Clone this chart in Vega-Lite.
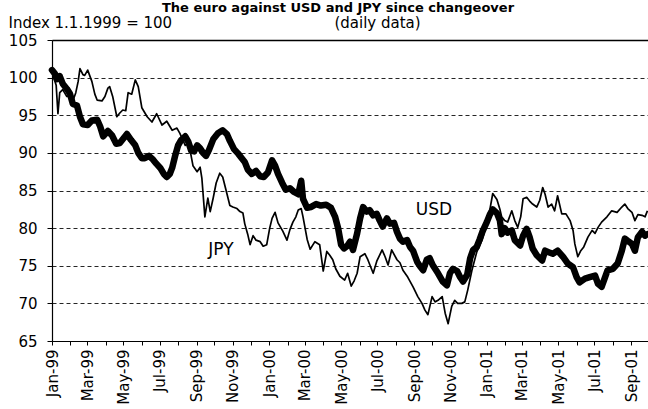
{
  "$schema": "https://vega.github.io/schema/vega-lite/v6.json",
  "width": 596,
  "height": 301,
  "autosize": "none",
  "padding": {"left": 52, "top": 40, "right": 0, "bottom": 68},
  "background": "white",
  "config": {
    "view": {"stroke": null},
    "font": "DejaVu Sans",
    "axis": {"labelColor": "black", "titleColor": "black", "domainColor": "black", "tickColor": "black", "labelFont": "DejaVu Sans", "titleFont": "DejaVu Sans"}
  },
  "title": {
    "text": "The euro against USD and JPY since changeover",
    "anchor": "middle",
    "frame": "group",
    "dx": -12,
    "dy": 14,
    "offset": 4,
    "baseline": "alphabetic",
    "fontSize": 13,
    "fontWeight": "bold",
    "font": "DejaVu Sans",
    "color": "black"
  },
  "datasets": {
    "rates": [
      {"d":"1999-01-01","c":"USD","v":101.0},{"d":"1999-01-06","c":"USD","v":100.5},{"d":"1999-01-09","c":"USD","v":99.8},{"d":"1999-01-14","c":"USD","v":100.2},{"d":"1999-01-19","c":"USD","v":99.2},{"d":"1999-01-26","c":"USD","v":98.5},{"d":"1999-01-31","c":"USD","v":97.9},{"d":"1999-02-05","c":"USD","v":96.5},{"d":"1999-02-12","c":"USD","v":96.3},{"d":"1999-02-17","c":"USD","v":94.8},{"d":"1999-02-22","c":"USD","v":93.8},{"d":"1999-03-02","c":"USD","v":93.7},{"d":"1999-03-09","c":"USD","v":94.3},{"d":"1999-03-18","c":"USD","v":94.4},{"d":"1999-03-23","c":"USD","v":93.5},{"d":"1999-03-28","c":"USD","v":92.2},{"d":"1999-04-05","c":"USD","v":92.9},{"d":"1999-04-12","c":"USD","v":92.3},{"d":"1999-04-19","c":"USD","v":91.2},{"d":"1999-04-25","c":"USD","v":91.3},{"d":"1999-05-02","c":"USD","v":92.0},{"d":"1999-05-07","c":"USD","v":92.5},{"d":"1999-05-14","c":"USD","v":91.7},{"d":"1999-05-21","c":"USD","v":91.0},{"d":"1999-05-26","c":"USD","v":90.0},{"d":"1999-06-01","c":"USD","v":89.3},{"d":"1999-06-06","c":"USD","v":89.3},{"d":"1999-06-13","c":"USD","v":89.6},{"d":"1999-06-20","c":"USD","v":89.1},{"d":"1999-06-25","c":"USD","v":88.6},{"d":"1999-07-02","c":"USD","v":88.0},{"d":"1999-07-08","c":"USD","v":87.2},{"d":"1999-07-13","c":"USD","v":86.8},{"d":"1999-07-18","c":"USD","v":87.2},{"d":"1999-07-22","c":"USD","v":88.0},{"d":"1999-07-27","c":"USD","v":89.6},{"d":"1999-08-01","c":"USD","v":91.0},{"d":"1999-08-06","c":"USD","v":91.7},{"d":"1999-08-13","c":"USD","v":92.2},{"d":"1999-08-18","c":"USD","v":91.5},{"d":"1999-08-23","c":"USD","v":90.3},{"d":"1999-08-28","c":"USD","v":90.2},{"d":"1999-09-02","c":"USD","v":91.0},{"d":"1999-09-07","c":"USD","v":90.6},{"d":"1999-09-12","c":"USD","v":90.0},{"d":"1999-09-17","c":"USD","v":89.6},{"d":"1999-09-22","c":"USD","v":90.4},{"d":"1999-09-29","c":"USD","v":91.8},{"d":"1999-10-07","c":"USD","v":92.6},{"d":"1999-10-15","c":"USD","v":93.0},{"d":"1999-10-22","c":"USD","v":92.5},{"d":"1999-10-27","c":"USD","v":91.6},{"d":"1999-11-03","c":"USD","v":90.5},{"d":"1999-11-10","c":"USD","v":89.9},{"d":"1999-11-16","c":"USD","v":89.3},{"d":"1999-11-21","c":"USD","v":88.8},{"d":"1999-11-26","c":"USD","v":87.8},{"d":"1999-12-03","c":"USD","v":87.2},{"d":"1999-12-10","c":"USD","v":87.6},{"d":"1999-12-17","c":"USD","v":86.9},{"d":"1999-12-23","c":"USD","v":86.8},{"d":"1999-12-30","c":"USD","v":87.4},{"d":"2000-01-06","c":"USD","v":89.0},{"d":"2000-01-11","c":"USD","v":88.3},{"d":"2000-01-16","c":"USD","v":87.2},{"d":"2000-01-23","c":"USD","v":86.0},{"d":"2000-01-29","c":"USD","v":85.1},{"d":"2000-02-05","c":"USD","v":85.3},{"d":"2000-02-12","c":"USD","v":84.8},{"d":"2000-02-19","c":"USD","v":84.5},{"d":"2000-02-24","c":"USD","v":86.3},{"d":"2000-02-27","c":"USD","v":83.9},{"d":"2000-03-05","c":"USD","v":82.7},{"d":"2000-03-11","c":"USD","v":82.8},{"d":"2000-03-20","c":"USD","v":83.2},{"d":"2000-03-28","c":"USD","v":83.0},{"d":"2000-04-06","c":"USD","v":83.1},{"d":"2000-04-14","c":"USD","v":82.7},{"d":"2000-04-21","c":"USD","v":81.5},{"d":"2000-04-26","c":"USD","v":80.0},{"d":"2000-05-01","c":"USD","v":77.8},{"d":"2000-05-06","c":"USD","v":77.3},{"d":"2000-05-11","c":"USD","v":77.6},{"d":"2000-05-16","c":"USD","v":78.2},{"d":"2000-05-21","c":"USD","v":77.1},{"d":"2000-05-28","c":"USD","v":79.3},{"d":"2000-06-02","c":"USD","v":81.3},{"d":"2000-06-07","c":"USD","v":82.8},{"d":"2000-06-13","c":"USD","v":82.2},{"d":"2000-06-18","c":"USD","v":82.4},{"d":"2000-06-24","c":"USD","v":81.7},{"d":"2000-06-30","c":"USD","v":81.9},{"d":"2000-07-05","c":"USD","v":81.0},{"d":"2000-07-10","c":"USD","v":80.2},{"d":"2000-07-17","c":"USD","v":81.3},{"d":"2000-07-22","c":"USD","v":80.6},{"d":"2000-07-29","c":"USD","v":80.7},{"d":"2000-08-03","c":"USD","v":79.5},{"d":"2000-08-08","c":"USD","v":78.6},{"d":"2000-08-13","c":"USD","v":78.2},{"d":"2000-08-20","c":"USD","v":78.4},{"d":"2000-08-25","c":"USD","v":77.5},{"d":"2000-08-30","c":"USD","v":77.0},{"d":"2000-09-06","c":"USD","v":75.5},{"d":"2000-09-11","c":"USD","v":74.9},{"d":"2000-09-16","c":"USD","v":74.4},{"d":"2000-09-22","c":"USD","v":75.8},{"d":"2000-09-27","c":"USD","v":76.0},{"d":"2000-10-02","c":"USD","v":75.1},{"d":"2000-10-11","c":"USD","v":74.0},{"d":"2000-10-19","c":"USD","v":72.9},{"d":"2000-10-26","c":"USD","v":72.4},{"d":"2000-10-31","c":"USD","v":74.0},{"d":"2000-11-05","c":"USD","v":74.6},{"d":"2000-11-12","c":"USD","v":74.3},{"d":"2000-11-17","c":"USD","v":73.5},{"d":"2000-11-22","c":"USD","v":72.9},{"d":"2000-11-29","c":"USD","v":73.8},{"d":"2000-12-04","c":"USD","v":76.0},{"d":"2000-12-09","c":"USD","v":77.1},{"d":"2000-12-15","c":"USD","v":77.5},{"d":"2000-12-20","c":"USD","v":78.5},{"d":"2000-12-25","c":"USD","v":79.6},{"d":"2001-01-01","c":"USD","v":80.8},{"d":"2001-01-06","c":"USD","v":81.8},{"d":"2001-01-11","c":"USD","v":82.5},{"d":"2001-01-18","c":"USD","v":82.0},{"d":"2001-01-23","c":"USD","v":81.0},{"d":"2001-01-26","c":"USD","v":79.2},{"d":"2001-01-31","c":"USD","v":80.0},{"d":"2001-02-05","c":"USD","v":79.4},{"d":"2001-02-12","c":"USD","v":79.7},{"d":"2001-02-17","c":"USD","v":78.4},{"d":"2001-02-26","c":"USD","v":77.7},{"d":"2001-03-03","c":"USD","v":79.0},{"d":"2001-03-09","c":"USD","v":79.9},{"d":"2001-03-14","c":"USD","v":78.8},{"d":"2001-03-19","c":"USD","v":77.3},{"d":"2001-03-26","c":"USD","v":76.4},{"d":"2001-04-04","c":"USD","v":75.7},{"d":"2001-04-09","c":"USD","v":77.0},{"d":"2001-04-15","c":"USD","v":76.8},{"d":"2001-04-22","c":"USD","v":76.6},{"d":"2001-04-30","c":"USD","v":77.0},{"d":"2001-05-09","c":"USD","v":76.2},{"d":"2001-05-17","c":"USD","v":75.3},{"d":"2001-05-26","c":"USD","v":74.8},{"d":"2001-06-01","c":"USD","v":73.5},{"d":"2001-06-06","c":"USD","v":72.8},{"d":"2001-06-15","c":"USD","v":73.3},{"d":"2001-06-23","c":"USD","v":73.5},{"d":"2001-07-02","c":"USD","v":73.7},{"d":"2001-07-07","c":"USD","v":72.6},{"d":"2001-07-13","c":"USD","v":72.2},{"d":"2001-07-18","c":"USD","v":73.3},{"d":"2001-07-23","c":"USD","v":74.4},{"d":"2001-08-01","c":"USD","v":74.6},{"d":"2001-08-09","c":"USD","v":75.3},{"d":"2001-08-16","c":"USD","v":77.0},{"d":"2001-08-21","c":"USD","v":78.6},{"d":"2001-08-26","c":"USD","v":78.3},{"d":"2001-09-02","c":"USD","v":77.9},{"d":"2001-09-07","c":"USD","v":77.0},{"d":"2001-09-12","c":"USD","v":78.8},{"d":"2001-09-19","c":"USD","v":79.5},{"d":"2001-09-24","c":"USD","v":79.0},{"d":"2001-09-28","c":"USD","v":79.2},
      {"d":"1999-01-01","c":"JPY","v":101.0},{"d":"1999-01-04","c":"JPY","v":100.0},{"d":"1999-01-08","c":"JPY","v":99.0},{"d":"1999-01-11","c":"JPY","v":95.2},{"d":"1999-01-14","c":"JPY","v":98.0},{"d":"1999-01-19","c":"JPY","v":98.4},{"d":"1999-01-26","c":"JPY","v":97.5},{"d":"1999-01-31","c":"JPY","v":97.5},{"d":"1999-02-05","c":"JPY","v":96.9},{"d":"1999-02-10","c":"JPY","v":98.0},{"d":"1999-02-14","c":"JPY","v":99.5},{"d":"1999-02-17","c":"JPY","v":101.2},{"d":"1999-02-22","c":"JPY","v":100.4},{"d":"1999-02-25","c":"JPY","v":100.3},{"d":"1999-03-02","c":"JPY","v":101.0},{"d":"1999-03-09","c":"JPY","v":99.5},{"d":"1999-03-14","c":"JPY","v":97.8},{"d":"1999-03-18","c":"JPY","v":97.0},{"d":"1999-03-26","c":"JPY","v":96.9},{"d":"1999-03-31","c":"JPY","v":97.5},{"d":"1999-04-05","c":"JPY","v":98.6},{"d":"1999-04-08","c":"JPY","v":98.8},{"d":"1999-04-13","c":"JPY","v":97.5},{"d":"1999-04-20","c":"JPY","v":94.8},{"d":"1999-04-25","c":"JPY","v":95.3},{"d":"1999-04-30","c":"JPY","v":95.7},{"d":"1999-05-05","c":"JPY","v":95.6},{"d":"1999-05-09","c":"JPY","v":98.0},{"d":"1999-05-15","c":"JPY","v":97.8},{"d":"1999-05-21","c":"JPY","v":99.7},{"d":"1999-05-26","c":"JPY","v":98.8},{"d":"1999-06-01","c":"JPY","v":96.0},{"d":"1999-06-10","c":"JPY","v":94.8},{"d":"1999-06-18","c":"JPY","v":94.1},{"d":"1999-06-26","c":"JPY","v":95.2},{"d":"1999-07-05","c":"JPY","v":93.7},{"d":"1999-07-13","c":"JPY","v":94.2},{"d":"1999-07-22","c":"JPY","v":93.0},{"d":"1999-07-30","c":"JPY","v":93.3},{"d":"1999-08-04","c":"JPY","v":92.6},{"d":"1999-08-13","c":"JPY","v":91.0},{"d":"1999-08-18","c":"JPY","v":91.3},{"d":"1999-08-21","c":"JPY","v":90.4},{"d":"1999-08-26","c":"JPY","v":88.3},{"d":"1999-09-02","c":"JPY","v":87.5},{"d":"1999-09-07","c":"JPY","v":88.1},{"d":"1999-09-10","c":"JPY","v":86.6},{"d":"1999-09-15","c":"JPY","v":81.5},{"d":"1999-09-20","c":"JPY","v":84.0},{"d":"1999-09-24","c":"JPY","v":82.2},{"d":"1999-09-29","c":"JPY","v":84.0},{"d":"1999-10-04","c":"JPY","v":86.0},{"d":"1999-10-10","c":"JPY","v":87.3},{"d":"1999-10-15","c":"JPY","v":86.8},{"d":"1999-10-22","c":"JPY","v":84.6},{"d":"1999-10-27","c":"JPY","v":83.0},{"d":"1999-11-01","c":"JPY","v":82.8},{"d":"1999-11-08","c":"JPY","v":82.6},{"d":"1999-11-13","c":"JPY","v":82.2},{"d":"1999-11-18","c":"JPY","v":82.0},{"d":"1999-11-21","c":"JPY","v":80.6},{"d":"1999-11-26","c":"JPY","v":79.2},{"d":"1999-11-30","c":"JPY","v":77.8},{"d":"1999-12-05","c":"JPY","v":79.0},{"d":"1999-12-10","c":"JPY","v":78.4},{"d":"1999-12-17","c":"JPY","v":78.2},{"d":"1999-12-22","c":"JPY","v":77.6},{"d":"1999-12-28","c":"JPY","v":77.8},{"d":"2000-01-02","c":"JPY","v":80.0},{"d":"2000-01-06","c":"JPY","v":81.3},{"d":"2000-01-11","c":"JPY","v":82.1},{"d":"2000-01-16","c":"JPY","v":80.7},{"d":"2000-01-24","c":"JPY","v":79.6},{"d":"2000-01-31","c":"JPY","v":78.4},{"d":"2000-02-05","c":"JPY","v":79.8},{"d":"2000-02-10","c":"JPY","v":80.8},{"d":"2000-02-15","c":"JPY","v":81.5},{"d":"2000-02-19","c":"JPY","v":82.4},{"d":"2000-02-24","c":"JPY","v":82.6},{"d":"2000-02-27","c":"JPY","v":81.5},{"d":"2000-03-05","c":"JPY","v":78.5},{"d":"2000-03-10","c":"JPY","v":77.2},{"d":"2000-03-18","c":"JPY","v":78.2},{"d":"2000-03-26","c":"JPY","v":77.8},{"d":"2000-04-01","c":"JPY","v":74.3},{"d":"2000-04-07","c":"JPY","v":76.9},{"d":"2000-04-12","c":"JPY","v":76.4},{"d":"2000-04-17","c":"JPY","v":75.8},{"d":"2000-04-22","c":"JPY","v":74.6},{"d":"2000-04-29","c":"JPY","v":73.6},{"d":"2000-05-07","c":"JPY","v":73.1},{"d":"2000-05-12","c":"JPY","v":74.0},{"d":"2000-05-18","c":"JPY","v":72.3},{"d":"2000-05-23","c":"JPY","v":73.0},{"d":"2000-05-28","c":"JPY","v":74.0},{"d":"2000-06-02","c":"JPY","v":76.2},{"d":"2000-06-10","c":"JPY","v":76.6},{"d":"2000-06-15","c":"JPY","v":75.8},{"d":"2000-06-24","c":"JPY","v":74.0},{"d":"2000-06-30","c":"JPY","v":75.6},{"d":"2000-07-09","c":"JPY","v":77.1},{"d":"2000-07-14","c":"JPY","v":76.2},{"d":"2000-07-19","c":"JPY","v":75.1},{"d":"2000-07-25","c":"JPY","v":77.1},{"d":"2000-08-03","c":"JPY","v":75.8},{"d":"2000-08-08","c":"JPY","v":75.4},{"d":"2000-08-13","c":"JPY","v":74.4},{"d":"2000-08-21","c":"JPY","v":73.5},{"d":"2000-08-30","c":"JPY","v":72.2},{"d":"2000-09-07","c":"JPY","v":70.9},{"d":"2000-09-14","c":"JPY","v":70.0},{"d":"2000-09-19","c":"JPY","v":69.1},{"d":"2000-09-24","c":"JPY","v":68.5},{"d":"2000-10-01","c":"JPY","v":70.9},{"d":"2000-10-06","c":"JPY","v":70.2},{"d":"2000-10-11","c":"JPY","v":70.4},{"d":"2000-10-18","c":"JPY","v":70.9},{"d":"2000-10-23","c":"JPY","v":68.7},{"d":"2000-10-28","c":"JPY","v":67.3},{"d":"2000-11-03","c":"JPY","v":69.6},{"d":"2000-11-08","c":"JPY","v":70.4},{"d":"2000-11-13","c":"JPY","v":70.0},{"d":"2000-11-20","c":"JPY","v":70.0},{"d":"2000-11-25","c":"JPY","v":70.2},{"d":"2000-11-30","c":"JPY","v":71.8},{"d":"2000-12-07","c":"JPY","v":74.4},{"d":"2000-12-15","c":"JPY","v":76.8},{"d":"2000-12-24","c":"JPY","v":78.4},{"d":"2001-01-01","c":"JPY","v":80.6},{"d":"2001-01-06","c":"JPY","v":82.4},{"d":"2001-01-11","c":"JPY","v":84.6},{"d":"2001-01-18","c":"JPY","v":83.8},{"d":"2001-01-23","c":"JPY","v":82.5},{"d":"2001-01-26","c":"JPY","v":81.5},{"d":"2001-01-31","c":"JPY","v":81.0},{"d":"2001-02-05","c":"JPY","v":80.8},{"d":"2001-02-12","c":"JPY","v":82.3},{"d":"2001-02-17","c":"JPY","v":81.0},{"d":"2001-02-22","c":"JPY","v":80.1},{"d":"2001-02-27","c":"JPY","v":81.5},{"d":"2001-03-03","c":"JPY","v":83.9},{"d":"2001-03-09","c":"JPY","v":84.1},{"d":"2001-03-14","c":"JPY","v":83.6},{"d":"2001-03-19","c":"JPY","v":83.2},{"d":"2001-03-26","c":"JPY","v":82.8},{"d":"2001-03-31","c":"JPY","v":83.7},{"d":"2001-04-05","c":"JPY","v":85.4},{"d":"2001-04-09","c":"JPY","v":84.5},{"d":"2001-04-14","c":"JPY","v":82.8},{"d":"2001-04-20","c":"JPY","v":83.2},{"d":"2001-04-25","c":"JPY","v":82.3},{"d":"2001-04-30","c":"JPY","v":84.3},{"d":"2001-05-07","c":"JPY","v":81.9},{"d":"2001-05-14","c":"JPY","v":81.9},{"d":"2001-05-21","c":"JPY","v":81.0},{"d":"2001-05-26","c":"JPY","v":79.7},{"d":"2001-05-29","c":"JPY","v":77.9},{"d":"2001-06-03","c":"JPY","v":76.2},{"d":"2001-06-08","c":"JPY","v":77.0},{"d":"2001-06-13","c":"JPY","v":77.5},{"d":"2001-06-20","c":"JPY","v":78.8},{"d":"2001-06-27","c":"JPY","v":79.7},{"d":"2001-07-02","c":"JPY","v":79.3},{"d":"2001-07-07","c":"JPY","v":80.1},{"d":"2001-07-13","c":"JPY","v":80.8},{"d":"2001-07-22","c":"JPY","v":81.5},{"d":"2001-07-30","c":"JPY","v":82.3},{"d":"2001-08-08","c":"JPY","v":82.1},{"d":"2001-08-16","c":"JPY","v":82.8},{"d":"2001-08-21","c":"JPY","v":83.2},{"d":"2001-08-26","c":"JPY","v":82.6},{"d":"2001-09-02","c":"JPY","v":82.1},{"d":"2001-09-07","c":"JPY","v":81.0},{"d":"2001-09-12","c":"JPY","v":81.8},{"d":"2001-09-19","c":"JPY","v":81.7},{"d":"2001-09-24","c":"JPY","v":81.5},{"d":"2001-09-28","c":"JPY","v":82.3}
    ],
    "labels": [
      {"d":"2000-10-04","v":82.4,"t":"USD"},
      {"d":"1999-10-12","v":77.1,"t":"JPY"}
    ]
  },
  "resolve": {"axis": {"x": "independent"}},
  "layer": [
    {
      "data": {"name": "rates"},
      "transform": [{"filter": "datum.c === 'USD'"}],
      "mark": {"type": "line", "color": "black", "strokeWidth": 6.5, "strokeJoin": "round", "strokeCap": "round"},
      "encoding": {
        "x": {
          "field": "d", "type": "temporal",
          "scale": {"type": "utc", "domain": [{"year":1999,"month":1,"date":1,"utc":true},{"year":2001,"month":9,"date":29,"utc":true}], "nice": false},
          "axis": {
            "orient": "bottom", "title": null, "grid": false,
            "tickCount": {"interval": "month", "step": 1},
            "labelExpr": "utcmonth(datum.value) % 2 == 0 ? utcFormat(datum.value, '%b-%y') : ''",
            "labelAngle": 270, "labelAlign": "right", "labelBaseline": "middle",
            "labelOverlap": false, "labelFlush": false, "labelBound": false,
            "labelFontSize": 15, "labelPadding": 4, "tickSize": 4, "domainWidth": 1.2
          }
        },
        "y": {
          "field": "v", "type": "quantitative",
          "scale": {"domain": [65, 105], "nice": false, "zero": false},
          "axis": {
            "values": [65,70,75,80,85,90,95,100,105],
            "tickCount": 12,
            "labelOverlap": false,
            "grid": true, "gridDash": [4,3], "gridColor": "black", "gridWidth": 1, "gridOpacity": 0.85,
            "tickSize": 5, "labelPadding": 10, "labelFontSize": 15, "domainWidth": 1.2,
            "title": "Index 1.1.1999 = 100", "titleAngle": 0, "titleAlign": "left", "titleBaseline": "alphabetic",
            "titleX": -44, "titleY": -13, "titleFontSize": 15, "titleFontWeight": "normal"
          }
        }
      }
    },
    {
      "data": {"name": "rates"},
      "transform": [{"filter": "datum.c === 'JPY'"}],
      "mark": {"type": "line", "color": "black", "strokeWidth": 1.7, "strokeJoin": "round"},
      "encoding": {
        "x": {
          "field": "d", "type": "temporal",
          "axis": {
            "orient": "top", "labels": false, "ticks": false, "grid": false, "domain": true, "domainWidth": 1.5,
            "title": "(daily data)", "titleX": 325, "titleY": -13, "titleAlign": "center", "titleBaseline": "alphabetic",
            "titleAngle": 0, "titleFontSize": 15, "titleFontWeight": "normal"
          }
        },
        "y": {"field": "v", "type": "quantitative"}
      }
    },
    {
      "data": {"name": "labels"},
      "mark": {"type": "text", "fontSize": 17, "font": "DejaVu Sans", "color": "black", "align": "center", "baseline": "middle"},
      "encoding": {
        "x": {"field": "d", "type": "temporal", "axis": null},
        "y": {"field": "v", "type": "quantitative"},
        "text": {"field": "t"}
      }
    }
  ]
}
